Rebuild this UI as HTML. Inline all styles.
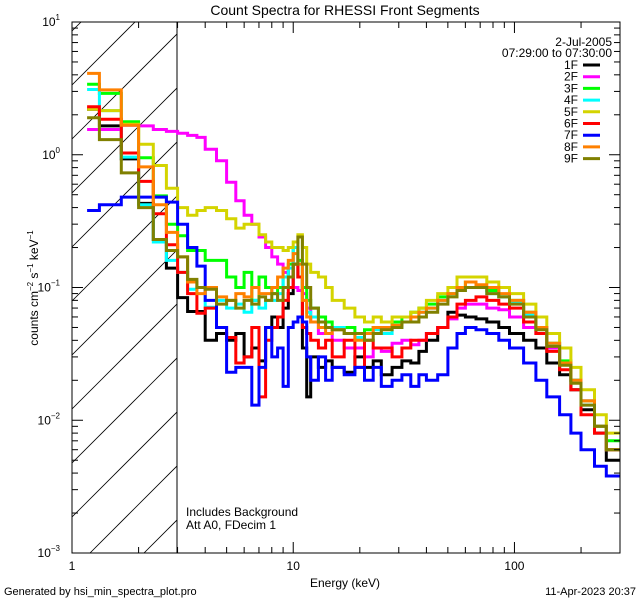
<!DOCTYPE html>
<html><head><meta charset="utf-8"><style>
body{margin:0;background:#fff;}
svg{display:block;font-family:"Liberation Sans",sans-serif;}
</style></head><body>
<svg id="chart" width="640" height="600">
<rect width="640" height="600" fill="#fff"/>
<text x="345" y="15" font-size="14" text-anchor="middle">Count Spectra for RHESSI Front Segments</text>
<defs><clipPath id="hclip"><rect x="72" y="22" width="105" height="531"/></clipPath><clipPath id="pclip"><rect x="72" y="22" width="548" height="531"/></clipPath></defs>
<g id="hatch" clip-path="url(#hclip)"></g>
<line x1="177" y1="22" x2="177" y2="553" stroke="#000" stroke-width="1"/>
<g id="series" clip-path="url(#pclip)"></g>
<rect x="72" y="22" width="548" height="531" fill="none" stroke="#000" stroke-width="1"/>
<g id="axes"></g>
<text x="345" y="587" font-size="12" text-anchor="middle">Energy (keV)</text>
<text transform="translate(38,288) rotate(-90)" font-size="12" text-anchor="middle">counts cm<tspan font-size="8" dy="-5">−2</tspan><tspan dy="5"> s</tspan><tspan font-size="8" dy="-5">−1</tspan><tspan dy="5"> keV</tspan><tspan font-size="8" dy="-5">−1</tspan></text>
<text x="4" y="595" font-size="11">Generated by hsi_min_spectra_plot.pro</text>
<text x="636" y="595" font-size="11" text-anchor="end">11-Apr-2023 20:37</text>
<text x="186" y="516" font-size="12">Includes Background</text>
<text x="186" y="529" font-size="12">Att A0, FDecim 1</text>
<text x="612" y="46" font-size="12" text-anchor="end">2-Jul-2005</text>
<text x="612" y="57" font-size="12" text-anchor="end">07:29:00 to 07:30:00</text>
<g id="legend"></g>
</svg>
<script>
const edges=[1.17,1.33,1.67,2.0,2.33,2.67,3.0,3.33,3.67,4,4.5,5,5.5,6,6.5,7,7.5,8,8.5,9,9.5,10,10.5,11,11.5,12,13,14,15,17,19,21,23,25,28,31,34,37,40,45,50,55,60,67,75,85,95,110,125,140,160,180,200,230,260,300];
const seriesNames=["1F","2F","3F","4F","5F","6F","7F","8F","9F"];
const seriesColors=["#000000","#ff00ff","#00ff00","#00ffff","#d4d400","#ff0000","#0000ff","#ff8000","#808000"];
const s1F=[2.2,1.65,0.93,0.43,0.23,0.14,0.084,0.066,0.066,0.04,0.045,0.04,0.045,0.03,0.035,0.028,0.05,0.06,0.05,0.07,0.09,0.15,0.12,0.035,0.015,0.03,0.025,0.028,0.025,0.023,0.03,0.025,0.028,0.022,0.025,0.028,0.027,0.033,0.04,0.05,0.065,0.062,0.06,0.058,0.055,0.05,0.045,0.04,0.035,0.027,0.022,0.017,0.012,0.008,0.005];
const s2F=[1.55,1.55,1.67,1.65,1.55,1.5,1.45,1.4,1.35,1.1,0.9,0.62,0.45,0.35,0.3,0.24,0.2,0.17,0.15,0.13,0.12,0.1,0.095,0.09,0.07,0.055,0.045,0.045,0.04,0.035,0.035,0.03,0.035,0.033,0.038,0.04,0.037,0.04,0.045,0.05,0.058,0.07,0.075,0.075,0.07,0.068,0.06,0.05,0.045,0.035,0.027,0.02,0.014,0.009,0.006];
const s3F=[3.4,2.9,1.77,0.95,0.49,0.3,0.245,0.19,0.19,0.16,0.16,0.12,0.1,0.13,0.08,0.12,0.1,0.09,0.1,0.12,0.15,0.2,0.16,0.1,0.08,0.07,0.06,0.055,0.05,0.05,0.045,0.048,0.05,0.05,0.055,0.06,0.065,0.07,0.075,0.085,0.09,0.1,0.11,0.1,0.095,0.085,0.08,0.065,0.05,0.038,0.028,0.02,0.014,0.009,0.007];
const s4F=[3.1,2.15,0.96,0.42,0.22,0.16,0.13,0.097,0.1,0.071,0.08,0.07,0.075,0.065,0.08,0.07,0.08,0.08,0.09,0.12,0.14,0.2,0.15,0.08,0.065,0.06,0.055,0.05,0.05,0.045,0.042,0.045,0.048,0.045,0.05,0.055,0.06,0.065,0.07,0.08,0.09,0.095,0.1,0.1,0.09,0.085,0.078,0.062,0.05,0.037,0.027,0.02,0.013,0.009,0.006];
const s5F=[2.2,2.15,1.7,1.2,0.83,0.56,0.4,0.35,0.38,0.4,0.38,0.33,0.28,0.3,0.3,0.25,0.22,0.2,0.2,0.19,0.2,0.22,0.25,0.2,0.15,0.13,0.12,0.1,0.08,0.07,0.06,0.055,0.06,0.055,0.06,0.06,0.065,0.07,0.08,0.09,0.1,0.12,0.12,0.12,0.11,0.1,0.09,0.075,0.06,0.045,0.035,0.025,0.017,0.011,0.008];
const s6F=[2.3,1.85,1.03,0.63,0.36,0.21,0.13,0.09,0.064,0.07,0.05,0.042,0.027,0.03,0.05,0.015,0.04,0.05,0.06,0.08,0.1,0.15,0.12,0.05,0.045,0.04,0.035,0.04,0.03,0.04,0.025,0.04,0.035,0.035,0.03,0.035,0.04,0.04,0.045,0.05,0.06,0.075,0.08,0.085,0.08,0.075,0.07,0.055,0.045,0.033,0.024,0.017,0.011,0.008,0.006];
const s7F=[0.38,0.42,0.48,0.48,0.48,0.44,0.3,0.2,0.145,0.08,0.05,0.023,0.025,0.025,0.013,0.025,0.05,0.03,0.035,0.018,0.05,0.055,0.06,0.055,0.03,0.02,0.03,0.02,0.025,0.022,0.025,0.02,0.025,0.018,0.02,0.022,0.018,0.022,0.02,0.022,0.035,0.045,0.05,0.048,0.045,0.04,0.035,0.027,0.02,0.015,0.011,0.008,0.006,0.0045,0.0038];
const s8F=[4.1,3.08,1.67,0.81,0.42,0.26,0.17,0.11,0.09,0.1,0.085,0.08,0.09,0.085,0.1,0.09,0.09,0.1,0.12,0.14,0.16,0.18,0.15,0.08,0.06,0.055,0.05,0.045,0.048,0.045,0.04,0.045,0.05,0.05,0.052,0.055,0.06,0.065,0.07,0.08,0.09,0.1,0.11,0.105,0.1,0.09,0.08,0.065,0.05,0.038,0.027,0.02,0.014,0.009,0.006];
const s9F=[1.9,1.3,0.73,0.4,0.23,0.19,0.17,0.115,0.1,0.097,0.075,0.08,0.07,0.08,0.075,0.085,0.08,0.09,0.08,0.1,0.12,0.15,0.24,0.15,0.1,0.07,0.055,0.05,0.048,0.045,0.045,0.04,0.045,0.048,0.05,0.055,0.055,0.06,0.065,0.075,0.085,0.095,0.1,0.1,0.09,0.085,0.075,0.06,0.048,0.036,0.026,0.019,0.013,0.009,0.006];
const allSeries=[s1F,s2F,s3F,s4F,s5F,s6F,s7F,s8F,s9F];
const xTickLabels=["1","10","100"];
const yTickExps=["1","0","−1","−2","−3"];

const NS="http://www.w3.org/2000/svg";
const X0=72,X1=620,Y0=22,Y1=553;
const xMin=0,xMax=Math.log10(300),yMin=-3,yMax=1;
function xs(e){return X0+(Math.log10(e)-xMin)/(xMax-xMin)*(X1-X0);}
function ys(v){return Y1-(Math.log10(v)-yMin)/(yMax-yMin)*(Y1-Y0);}
function mk(tag,attrs,parent){const el=document.createElementNS(NS,tag);for(const k in attrs)el.setAttribute(k,attrs[k]);parent.appendChild(el);return el;}

const hatch=document.getElementById('hatch');
for(let k=-10;k<12;k++){const y=31+54*k;
 const l=mk('line',{x1:X0,y1:y,x2:X0+700,y2:y-700,stroke:'#000','stroke-width':0.8},hatch);
 
 }

const sg=document.getElementById('series');
allSeries.forEach((vals,i)=>{
 let d='';
 vals.forEach((v,j)=>{const xa=xs(edges[j]),xb=xs(edges[j+1]),y=ys(v);
  d+=(j===0?'M':'L')+xa.toFixed(1)+','+y.toFixed(1)+'L'+xb.toFixed(1)+','+y.toFixed(1);});
 const p=mk('path',{d:d,fill:'none',stroke:seriesColors[i],'stroke-width':3,'stroke-linejoin':'miter'},sg);
 
 
});

const ax=document.getElementById('axes');
for(let dec=0;dec<3;dec++){for(let m=1;m<10;m++){const e=m*Math.pow(10,dec);if(e>300)break;
 const x=xs(e),len=m===1?11:6;
 const t1=mk('line',{x1:x,y1:Y1,x2:x,y2:Y1-len,stroke:'#000'},ax);
 
 
 const t2=mk('line',{x1:x,y1:Y0,x2:x,y2:Y0+len,stroke:'#000'},ax);
 
 
 if(m===1){const tl=mk('text',{x:x,y:Y1+17,'font-size':12,'text-anchor':'middle'},ax);tl.textContent=xTickLabels[dec];
  
  }
}}
for(let dec=-3;dec<=1;dec++){for(let m=1;m<10;m++){if(dec===1&&m>1)break;const v=m*Math.pow(10,dec);
 const y=ys(v),len=m===1?11:6;
 const t1=mk('line',{x1:X0,y1:y,x2:X0+len,y2:y,stroke:'#000'},ax);
 
 
 const t2=mk('line',{x1:X1,y1:y,x2:X1-len,y2:y,stroke:'#000'},ax);
 
 
 if(m===1){const tl=mk('text',{x:X0-12,y:y+4,'font-size':12,'text-anchor':'end'},ax);
  
  
  tl.appendChild(document.createTextNode('10'));
  const sp=mk('tspan',{dy:-6,'font-size':8},tl);sp.textContent=yTickExps[1-dec];}
}}

const lg=document.getElementById('legend');
seriesNames.forEach((n,i)=>{const y=65+11.7*i;
 const t=mk('text',{x:578,y:y+4,'font-size':12,'text-anchor':'end'},lg);t.textContent=n;
 
 
 const l=mk('line',{x1:583,y1:y,x2:600,y2:y,stroke:seriesColors[i],'stroke-width':3},lg);
 
 
});
</script>
</body></html>
